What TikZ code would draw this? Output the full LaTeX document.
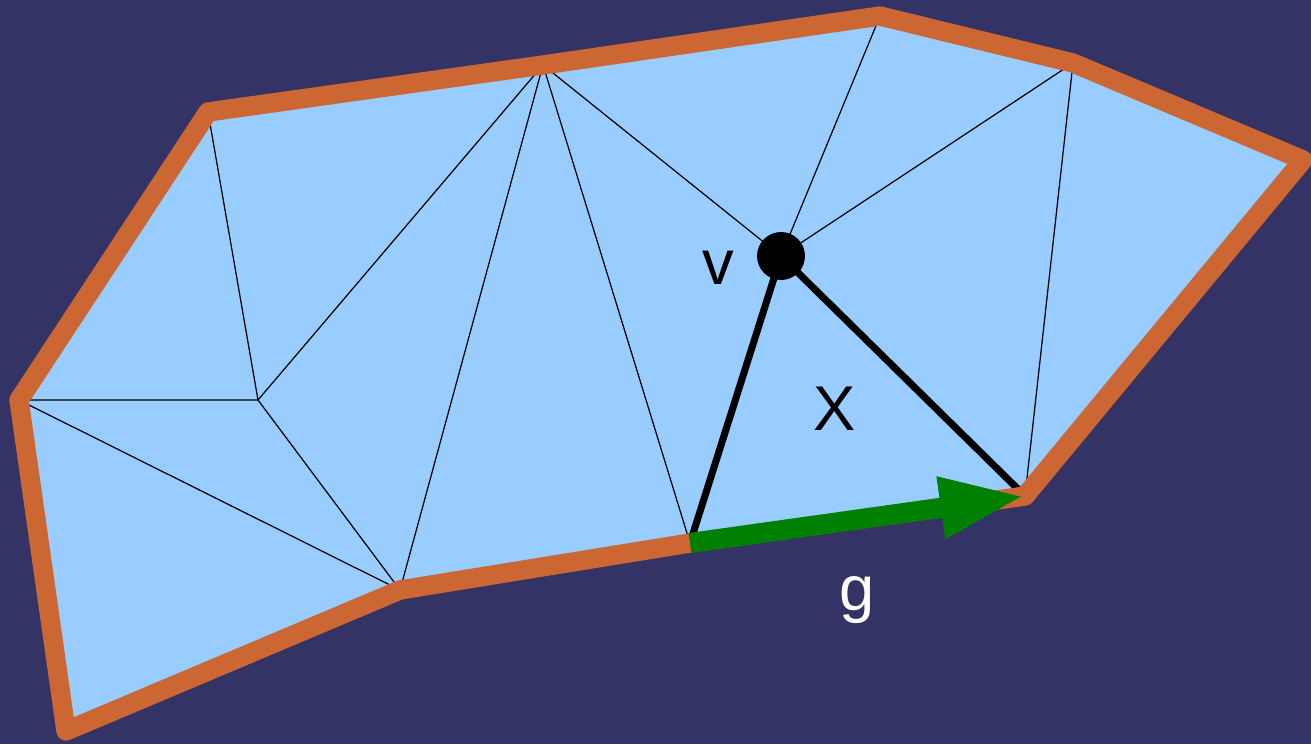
\documentclass[tikz,border=0pt]{standalone}
\usepackage{fontspec}
\setmainfont{Liberation Sans}
\usepackage{xcolor}
\usepackage{tikz}
\usetikzlibrary{arrows.meta}
\definecolor{night}{HTML}{333366}
\definecolor{sky}{HTML}{99CCFF}
\definecolor{rust}{HTML}{CC6633}
\definecolor{leaf}{HTML}{008000}
\tikzstyle{mesh} = [black, line width=0.7pt]
\tikzstyle{star} = [black, line width=4pt]
\tikzstyle{rim} = [rust, line width=11pt, line join=round]
\tikzstyle{gate} = [leaf, line width=11.4pt, -{Triangle[length=1.7cm, width=1.14cm]}]
\tikzstyle{lbl} = [inner sep=0pt, font=\fontsize{36}{40}\selectfont]

\begin{document}
\begin{tikzpicture}[x=0.02cm, y=-0.02cm]
% Background
\fill[night] (0,0) rectangle (1311,744);
\useasboundingbox (0,0) rectangle (1311,744);

% Boundary vertices
\coordinate (a) at (19,400);
\coordinate (b) at (208,112);
\coordinate (c) at (543,65);
\coordinate (d) at (880,16);
\coordinate (e) at (1073,63);
\coordinate (f) at (1303,160);
\coordinate (g) at (1025,496);
\coordinate (h) at (690,543);
\coordinate (i) at (400,590);
\coordinate (j) at (66,731);
% Inner vertex
\coordinate (k) at (258,400);

% Region
\fill[sky] (a) -- (b) -- (c) -- (d) -- (e) -- (f) -- (g) -- (h) -- (i) -- (j) -- cycle;

% Triangulation
\node (v) [circle, fill=black, minimum size=0.96cm, inner sep=0pt] at (781,256) {};
\draw[mesh] (b) -- (k) (a) -- (k) (a) -- (i) (k) -- (i) (k) -- (c);
\draw[mesh] (c) -- (i) (c) -- (h) (c) -- (v.center) (d) -- (v.center) (e) -- (v.center) (e) -- (g);
\draw[star] (v.center) -- (h);
\draw[star] (v.center) -- (g);

% Boundary
\draw[rim] (a) -- (b) -- (c) -- (d) -- (e) -- (f) -- (g) -- (h) -- (i) -- (j) -- cycle;
\draw[gate] (h) -- (g);

% Labels
\node (vlbl) [lbl, anchor=base] at (718,284) {v};
\node (xlbl) [lbl, anchor=base] at (835,430) {X};
\node (glbl) [lbl, anchor=base, white] at (857,610) {g};
\end{tikzpicture}
\end{document}
